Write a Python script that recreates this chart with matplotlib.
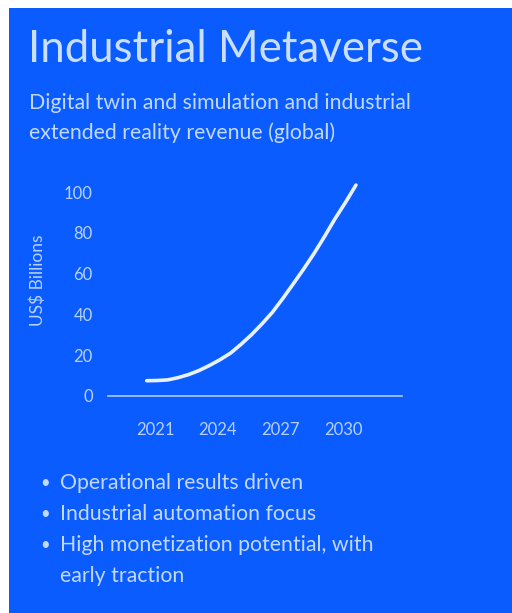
import matplotlib
matplotlib.use("Agg")
import matplotlib.pyplot as plt
from matplotlib.patches import Rectangle

############################
# Colors
############################

BLUE = "#0A5CFF"
TEXT = "#D6E6FF"
LINE = "#E8F1FF"

############################
# Data
############################

years = [2020.6, 2021.1, 2021.6, 2022.1, 2022.6, 2023.1, 2023.6, 2024.1, 2024.6, 2025.1,
         2025.6, 2026.1, 2026.6, 2027.1, 2027.6, 2028.1, 2028.6, 2029.1, 2029.6, 2030.1, 2030.6]
revenue = [7.5, 7.6, 7.9, 9.0, 10.5, 12.5, 15, 17.8, 21, 25.3,
           30, 35.3, 41, 47.8, 55, 62.3, 70, 78.3, 87, 95, 103.5]

x_ticks = [2021, 2024, 2027, 2030]
y_ticks = [0, 20, 40, 60, 80, 100]

title = "Industrial Metaverse"
subtitle = "Digital twin and simulation and industrial\nextended reality revenue (global)"
bullets = [
    "Operational results driven",
    "Industrial automation focus",
    "High monetization potential, with\nearly traction",
]

############################
# Figure
############################

plt.rcParams["font.family"] = ["Lato", "DejaVu Sans"]

W, H = 512, 613
fig = plt.figure(figsize=(W / 100, H / 100), dpi=100, facecolor="white")

# blue panel
fig.patches.append(Rectangle((9 / W, 0), 1, 1 - 8 / H, transform=fig.transFigure,
                             facecolor=BLUE, edgecolor="none", zorder=-5))

fig.text(28 / W, 1 - 50 / H, title, color=TEXT, fontsize=31.5,
         va="center", ha="left", alpha=0.95)
fig.text(29 / W, 1 - 118 / H, subtitle, color=TEXT, fontsize=15.3, va="center", ha="left",
         linespacing=1.6, alpha=0.9)

# chart
ax = fig.add_axes([108 / W, 1 - 396 / H, 294 / W, (396 - 182) / H])
ax.set_zorder(2)
ax.set_facecolor("none")
ax.plot(years, revenue, color=LINE, linewidth=2.6, solid_capstyle="round",
        solid_joinstyle="round", clip_on=False)
ax.set_xlim(2018.75, 2032.8)
ax.set_ylim(0, 105)
ax.set_xticks(x_ticks)
ax.set_yticks(y_ticks)
ax.tick_params(length=0, colors=TEXT, labelsize=12)
ax.tick_params(axis="x", pad=19)
ax.tick_params(axis="y", pad=11)
for lab in ax.get_xticklabels() + ax.get_yticklabels():
    lab.set_alpha(0.85)
for s in ["top", "right", "left"]:
    ax.spines[s].set_visible(False)
ax.spines["bottom"].set_color(TEXT)
ax.spines["bottom"].set_linewidth(1.2)
ax.spines["bottom"].set_alpha(0.8)

fig.text(38 / W, 1 - 280 / H, "US$ Billions", color=TEXT, fontsize=12.5, rotation=90,
         va="center", ha="center", alpha=0.85)

# bullets
y0 = 483
step = 31
row = 0
for b in bullets:
    fig.text(40 / W, 1 - (y0 + row * step) / H, "\u2022", color=TEXT, fontsize=12,
             va="center", ha="left", alpha=0.9)
    for i, line in enumerate(b.split("\n")):
        fig.text(60 / W, 1 - (y0 + (row + i) * step) / H, line, color=TEXT, fontsize=15.3,
                 va="center", ha="left", alpha=0.9)
    row += len(b.split("\n"))

fig.savefig("out.png", dpi=100, facecolor="white")
